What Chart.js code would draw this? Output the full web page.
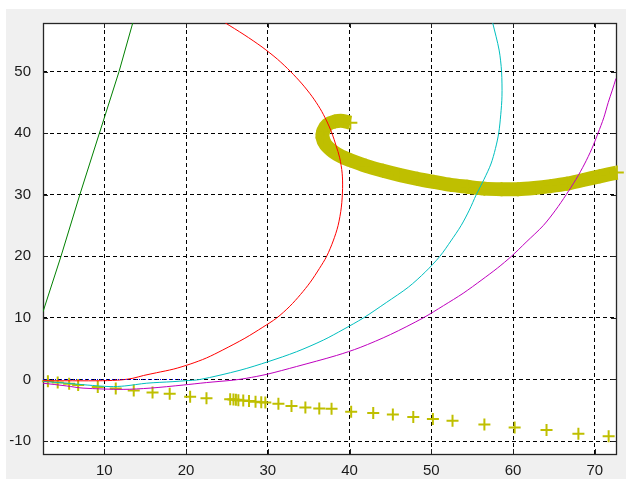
<!DOCTYPE html>
<html>
<head>
<meta charset="utf-8">
<script src="https://cdn.jsdelivr.net/npm/chart.js@4/dist/chart.umd.min.js"></script>
<style>
  html, body { margin: 0; padding: 0; background: #ffffff; }
  canvas { display: block; }
</style>
</head>
<body>
<canvas id="plot" width="626" height="479"></canvas>
<script>
// Axis ticks
const xTicks = [10, 20, 30, 40, 50, 60, 70];
const yTicks = [-10, 0, 10, 20, 30, 40, 50];

// Green trajectory
const greenX = [2.5, 4.7, 7.0, 9.4, 11.8, 13.5];
const greenY = [11.0, 20.0, 30.0, 40.0, 50.0, 58.0];

// Red trajectory
const redX = [2.5, 9.8, 12.2, 13.5, 14.8, 16.4, 18.5, 20.5, 22.5, 24.5, 27.2, 29.4, 31.1, 32.7, 34.0, 35.2, 36.3, 37.2, 38.0, 38.6, 39.0, 39.15, 39.1, 38.8, 38.35, 37.85, 37.2, 36.4, 35.4, 34.2, 32.8, 31.2, 29.3, 27.1, 24.7];
const redY = [-0.2, -0.2, -0.05, 0.2, 0.65, 1.1, 1.7, 2.5, 3.5, 4.8, 6.7, 8.5, 10.0, 11.9, 13.8, 15.8, 18.0, 20.0, 22.5, 25.0, 28.0, 31.0, 33.5, 36.0, 38.0, 40.0, 42.0, 44.0, 46.0, 48.0, 50.0, 52.0, 54.0, 56.0, 58.0];

// Cyan trajectory
const cyanX = [2.5, 5.4, 7.9, 10.7, 12.5, 15.2, 18.4, 19.9, 21.7, 26.6, 30.05, 33.5, 36.8, 39.2, 41.7, 44.5, 47.2, 49.3, 51.05, 52.4, 53.65, 54.65, 55.5, 56.45, 57.3, 57.85, 58.25, 58.5, 58.65, 58.6, 58.3, 57.5];
const cyanY = [-0.3, -0.6, -0.9, -1.15, -1.05, -0.6, -0.35, -0.2, 0.0, 1.5, 2.9, 4.5, 6.4, 8.1, 10.0, 12.5, 15.0, 17.5, 20.0, 22.5, 25.0, 27.5, 30.0, 32.5, 35.0, 37.5, 40.0, 43.0, 46.0, 50.0, 53.5, 58.0];

// Magenta trajectory
const magentaX = [2.5, 5.4, 7.4, 12.3, 15.6, 19.65, 22.5, 25.8, 27.4, 29.9, 33.5, 38.4, 41.3, 45.0, 49.0, 51.5, 53.9, 56.2, 58.1, 59.8, 61.6, 63.7, 65.2, 66.5, 67.7, 68.75, 69.65, 70.4, 71.1, 71.65, 72.15, 72.6];
const magentaY = [-0.6, -1.05, -1.4, -1.6, -1.4, -0.9, -0.5, -0.1, 0.2, 0.85, 2.1, 3.9, 5.2, 7.3, 10.0, 12.0, 14.0, 16.2, 18.1, 20.0, 22.3, 25.0, 27.5, 30.0, 32.5, 35.0, 37.5, 40.0, 42.5, 45.0, 47.0, 48.9];

// Blue reference segment along zero
const blueX = [2.5, 19.6];
const blueY = [0, 0];

// Yellow '+' samples, lower branch
const lowX = [3.1, 4.3, 5.7, 6.8, 9.2, 11.4, 13.6, 15.9, 18.0, 20.5, 22.5, 25.4, 25.8, 26.1, 26.4, 27.0, 27.7, 28.5, 29.2, 29.7, 31.3, 32.9, 34.6, 36.3, 37.8, 40.2, 42.9, 45.3, 47.8, 50.2, 52.6, 56.5, 60.2, 64.1, 68.0, 71.7];
const lowY = [-0.3, -0.5, -0.7, -0.9, -1.2, -1.45, -1.8, -2.1, -2.3, -2.8, -3.05, -3.2, -3.25, -3.3, -3.35, -3.4, -3.5, -3.6, -3.7, -3.75, -3.95, -4.3, -4.55, -4.7, -4.75, -5.25, -5.45, -5.7, -6.1, -6.4, -6.7, -7.3, -7.8, -8.2, -8.8, -9.2];

// Yellow '+' samples, upper branch (dense)
const bandX = [40.1, 39.2, 38.2, 37.3, 36.8, 36.7, 37.1, 38.0, 39.0, 40.1, 42.0, 44.1, 46.2, 48.3, 50.3, 52.4, 54.4, 56.5, 58.6, 60.6, 62.6, 64.6, 66.6, 68.6, 70.6, 72.7];
const bandY = [41.7, 42.0, 41.9, 41.4, 40.4, 39.3, 38.1, 37.0, 36.2, 35.6, 34.7, 33.9, 33.2, 32.6, 32.1, 31.6, 31.3, 31.0, 30.9, 30.9, 31.1, 31.4, 31.8, 32.4, 33.0, 33.6];

const pts = (xs, ys) => xs.map((x, i) => ({ x: x, y: ys[i] }));

const YELLOW = '#bfbf00';

// Figure panel, white axes area, box and inner tick marks
const frame = {
  id: 'frame',
  beforeDraw(chart) {
    const { ctx, chartArea: a } = chart;
    ctx.save();
    ctx.fillStyle = '#ffffff';
    ctx.fillRect(0, 0, chart.width, chart.height);
    ctx.fillStyle = '#f0f0f0';
    ctx.fillRect(6, 9, chart.width - 6, chart.height - 9);
    ctx.fillStyle = '#ffffff';
    ctx.fillRect(a.left, a.top, a.right - a.left, a.bottom - a.top);
    ctx.restore();
  },
  beforeDatasetsDraw(chart) {
    const { ctx, chartArea: a, scales } = chart;
    ctx.save();
    ctx.strokeStyle = '#1e1e1e';
    ctx.lineWidth = 1;
    ctx.beginPath();
    const tl = 5;
    xTicks.forEach(v => {
      const px = Math.round(scales.x.getPixelForValue(v)) + 0.5;
      ctx.moveTo(px, a.top); ctx.lineTo(px, a.top + tl);
      ctx.moveTo(px, a.bottom); ctx.lineTo(px, a.bottom - tl);
    });
    yTicks.forEach(v => {
      const py = Math.round(scales.y.getPixelForValue(v)) + 0.5;
      ctx.moveTo(a.left, py); ctx.lineTo(a.left + tl, py);
      ctx.moveTo(a.right, py); ctx.lineTo(a.right - tl, py);
    });
    ctx.stroke();
    ctx.lineWidth = 1.3;
    ctx.strokeStyle = '#262626';
    ctx.strokeRect(a.left + 0.5, a.top + 0.5, a.right - a.left, a.bottom - a.top);
    ctx.restore();
  }
};

const lineSet = (data, color, order, tension) => ({
  data: data,
  showLine: true,
  tension: tension,
  borderColor: color,
  backgroundColor: color,
  borderWidth: 1,
  pointRadius: 0,
  pointHoverRadius: 0,
  order: order
});

new Chart(document.getElementById('plot'), {
  type: 'scatter',
  data: {
    datasets: [
      Object.assign(lineSet(pts(blueX, blueY), '#0000ff', 0, 0), { borderDash: [1, 2] }),
      lineSet(pts(greenX, greenY), '#008000', 1, 0),
      lineSet(pts(redX, redY), '#ff0000', 1, 0.3),
      lineSet(pts(cyanX, cyanY), '#00bfbf', 1, 0.3),
      lineSet(pts(magentaX, magentaY), '#bf00bf', 1, 0.3),
      {
        data: pts(lowX, lowY),
        showLine: false,
        pointStyle: 'cross',
        pointRadius: 6,
        pointBorderWidth: 2,
        borderColor: YELLOW,
        backgroundColor: YELLOW,
        order: 2,
        clip: false
      },
      {
        data: pts(bandX, bandY),
        showLine: true,
        tension: 0.3,
        borderColor: YELLOW,
        backgroundColor: YELLOW,
        borderWidth: 14,
        borderCapStyle: 'butt',
        borderJoinStyle: 'round',
        pointStyle: 'cross',
        pointRadius: 7,
        pointBorderWidth: 2,
        pointBorderColor: YELLOW,
        order: 3,
        clip: false
      }
    ]
  },
  options: {
    responsive: false,
    animation: false,
    devicePixelRatio: 1,
    layout: { padding: { left: 0, right: 10, top: 23, bottom: 0 } },
    plugins: {
      legend: { display: false },
      tooltip: { enabled: false }
    },
    scales: {
      x: {
        type: 'linear',
        min: 2.5,
        max: 72.6,
        afterBuildTicks: s => { s.ticks = xTicks.map(v => ({ value: v })); },
        afterFit: s => { s.height = 25; },
        grid: { color: '#000000', lineWidth: 1, drawTicks: false },
        border: { display: false, dash: [4, 3] },
        ticks: {
          padding: 8,
          color: '#1a1a1a',
          font: { family: 'Liberation Sans', size: 15 },
          maxRotation: 0,
          autoSkip: false
        }
      },
      y: {
        type: 'linear',
        min: -12.1,
        max: 57.9,
        afterBuildTicks: s => { s.ticks = yTicks.map(v => ({ value: v })); },
        afterFit: s => { s.width = 43; },
        grid: { color: '#000000', lineWidth: 1, drawTicks: false },
        border: { display: false, dash: [4, 3] },
        ticks: {
          padding: 12,
          color: '#1a1a1a',
          font: { family: 'Liberation Sans', size: 15 },
          autoSkip: false
        }
      }
    }
  },
  plugins: [frame]
});
</script>
</body>
</html>
